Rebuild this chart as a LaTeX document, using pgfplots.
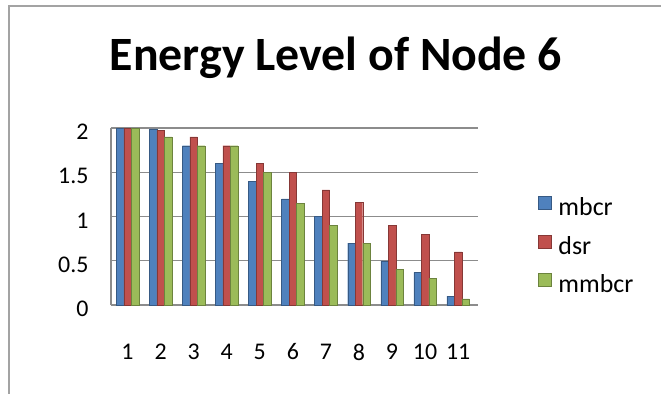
\documentclass[border=0pt]{standalone}
\usepackage{pgfplots}
\pgfplotsset{compat=1.18}
\usepackage{fontspec}
\setmainfont{Carlito}
\definecolor{cblue}{HTML}{4F81BD}
\definecolor{cred}{HTML}{C0504D}
\definecolor{cgreen}{HTML}{9BBB59}
\definecolor{gridc}{HTML}{8C8C8C}
\begin{document}
\begin{tikzpicture}
\useasboundingbox (-111bp,-89bp) rectangle (550bp,305bp);
\draw[color=gridc!80,line width=2bp] (-102bp,-89bp) -- (-102bp,299bp) -- (550bp,299bp);
\begin{axis}[
  at={(0,0)}, anchor=south west,
  scale only axis, width=367bp, height=177bp,
  xmin=0.5, xmax=11.6, ymin=0, ymax=2,
  ybar=0pt, bar width=7.5bp,
  xtick={1,...,11}, ytick={0,0.5,1,1.5,2},
  yticklabels={0,0.5,1,1.5,2},
  major tick length=0pt,
  axis line style={gridc, line width=1.2bp},
  axis x line*=bottom, axis y line*=left,
  ymajorgrids, grid style={gridc, line width=1.2bp},
  /pgf/number format/assume math mode=true,
  tick label style={font=\fontsize{24}{28}\selectfont},
  xticklabel style={anchor=center, yshift=-47bp},
  yticklabel style={xshift=-19bp, yshift=-4bp},
  title={\fontsize{48}{56}\selectfont\bfseries Energy Level of Node 6},
  title style={at={(0.613,1.29)}, anchor=base, inner sep=0pt},
  legend style={at={(1.155,0.63)}, anchor=north west, draw=none, fill=none,
    font=\fontsize{26}{30}\selectfont, row sep=15bp},
  legend cell align=left,
  legend image code/.code={\fill[#1] (0bp,-2bp) rectangle (13bp,11bp); \path (18bp,0bp);},
  clip=false,
]
\addplot[fill=cblue, draw=cblue!70!black, line width=0.4bp] coordinates {(1,2.0) (2,1.99) (3,1.80) (4,1.60) (5,1.40) (6,1.20) (7,1.00) (8,0.70) (9,0.50) (10,0.37) (11,0.10)};
\addplot[fill=cred, draw=cred!70!black, line width=0.4bp] coordinates {(1,2.0) (2,1.97) (3,1.90) (4,1.80) (5,1.60) (6,1.50) (7,1.30) (8,1.16) (9,0.90) (10,0.80) (11,0.60)};
\addplot[fill=cgreen, draw=cgreen!70!black, line width=0.4bp] coordinates {(1,2.0) (2,1.90) (3,1.80) (4,1.80) (5,1.50) (6,1.15) (7,0.90) (8,0.70) (9,0.40) (10,0.30) (11,0.07)};
\legend{mbcr,dsr,mmbcr}
\end{axis}
\end{tikzpicture}
\end{document}
